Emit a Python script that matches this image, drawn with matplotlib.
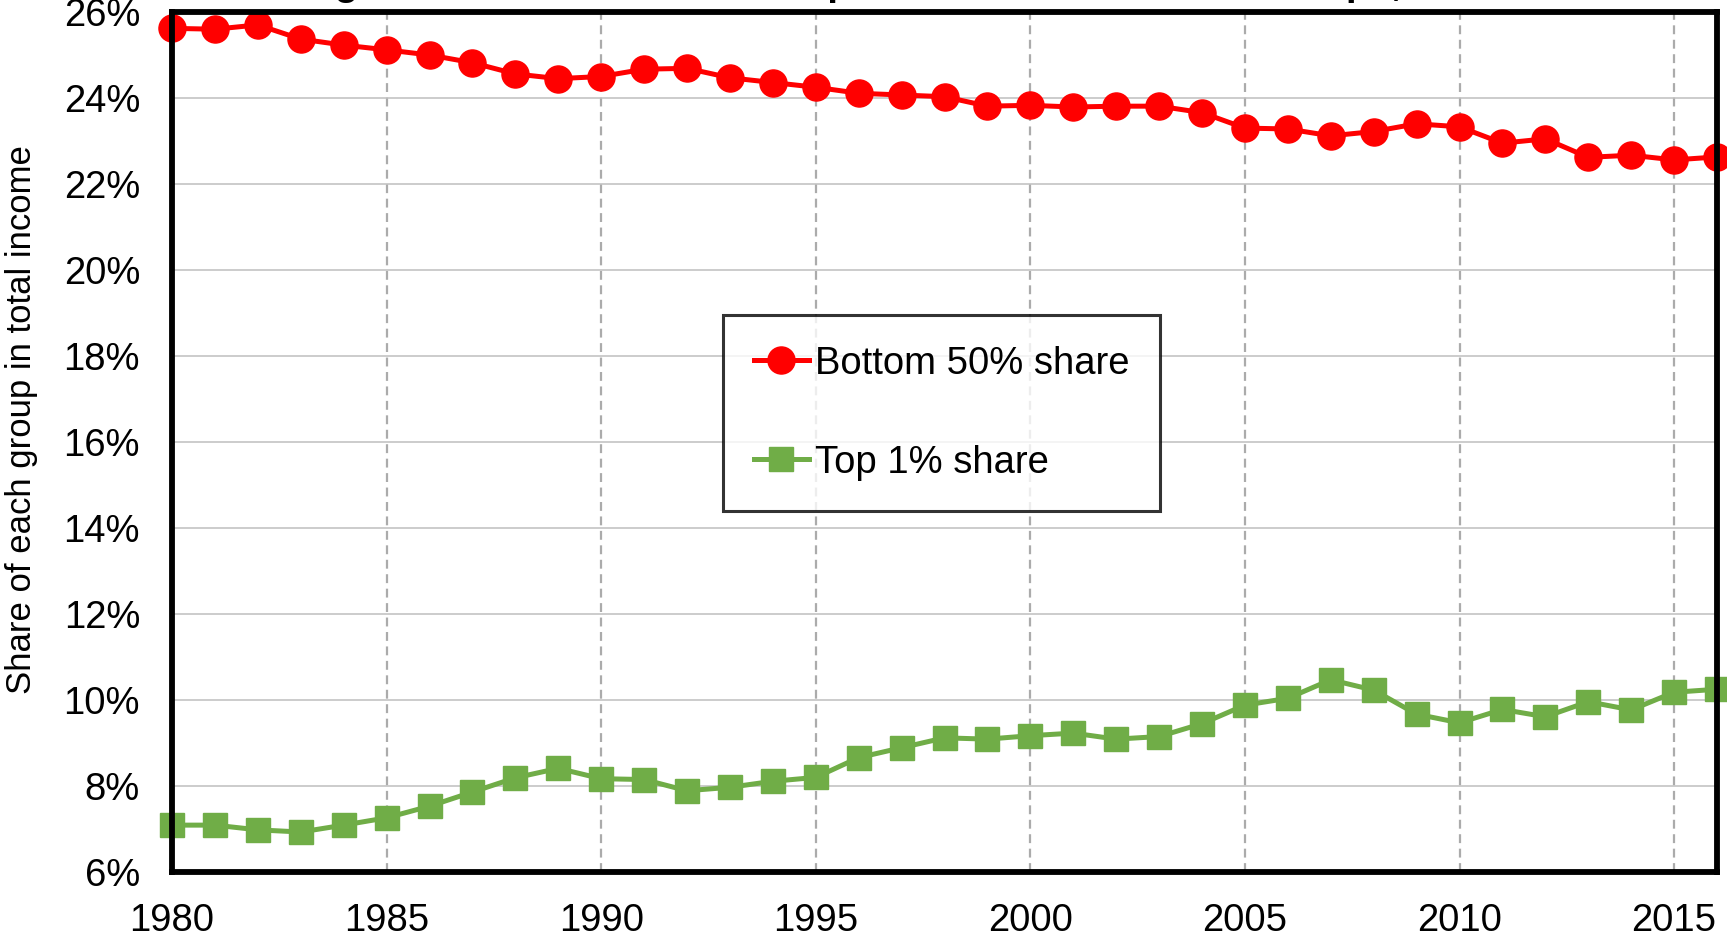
import matplotlib
matplotlib.use('Agg')
import matplotlib.pyplot as plt
from matplotlib.ticker import FuncFormatter, MultipleLocator

plt.rcParams['font.family'] = ['Liberation Sans', 'DejaVu Sans']

# values (% of total income)
years = list(range(1980, 2017))
bottom50 = [25.62, 25.60, 25.70, 25.37, 25.23, 25.12, 25.00, 24.82, 24.56, 24.45,
            24.50, 24.67, 24.69, 24.47, 24.36, 24.25, 24.11, 24.07, 24.03, 23.81,
            23.83, 23.79, 23.81, 23.81, 23.66, 23.30, 23.28, 23.12, 23.22, 23.40,
            23.33, 22.95, 23.05, 22.62, 22.67, 22.56, 22.63]
top1 = [7.09, 7.09, 6.98, 6.93, 7.09, 7.26, 7.53, 7.86, 8.19, 8.41,
        8.17, 8.15, 7.89, 7.97, 8.11, 8.20, 8.66, 8.89, 9.12, 9.09,
        9.17, 9.23, 9.09, 9.15, 9.45, 9.88, 10.04, 10.47, 10.23, 9.67,
        9.47, 9.78, 9.61, 9.96, 9.77, 10.18, 10.25]

series_labels = ['Bottom 50% share', 'Top 1% share']
title = 'Figure 1: Bottom 50% and top 1% income shares in Europe, 1980-2016'
ylabel = 'Share of each group in total income'

W, H = 1727, 942
fig = plt.figure(figsize=(W / 100, H / 100), dpi=100)
ax = fig.add_axes([172 / W, 1 - 872 / H, (1717 - 172) / W, (872 - 12) / H])

ax.plot(years, bottom50, color='#FF0000', lw=3.6, marker='o', markersize=19.5,
        label=series_labels[0], clip_on=False, zorder=4)
ax.plot(years, top1, color='#70AD47', lw=3.6, marker='s', markersize=17,
        label=series_labels[1], clip_on=False, zorder=4)

ax.set_xlim(1980, 2016)
ax.set_ylim(6, 26)
ax.xaxis.set_major_locator(MultipleLocator(5))
ax.yaxis.set_major_locator(MultipleLocator(2))
ax.yaxis.set_major_formatter(FuncFormatter(lambda v, p: f'{v:.0f}%'))

# horizontal solid grid, vertical dashed grid
ax.grid(axis='y', color='#BFBFBF', lw=1.1, zorder=0)
ax.grid(axis='x', color='#ABABAB', lw=1.6, ls=(0, (4, 2.5)), zorder=0)
ax.set_axisbelow(True)

for s in ax.spines.values():
    s.set_linewidth(4.2)
    s.set_color('black')
    s.set_zorder(5)

ax.tick_params(axis='both', length=0, labelsize=27.5)
ax.tick_params(axis='y', pad=23)
ax.tick_params(axis='x', pad=22)

fig.text(22 / W, 1 - 420 / H, ylabel, rotation=90, ha='center', va='center', fontsize=25)

# title sits above the canvas, only its descenders show
fig.text(300 / W, 1 + 5 / H, title, ha='left', va='baseline', fontsize=28, fontweight='bold')

leg = ax.legend(loc='upper left', bbox_to_anchor=(723 / W, 1 - 315 / H),
                bbox_transform=fig.transFigure, fontsize=27.5, frameon=True,
                fancybox=False, edgecolor='black', borderpad=0.8, handlelength=1.45,
                handletextpad=0.15, labelspacing=1.65, borderaxespad=0)
leg.get_frame().set_linewidth(2.2)

fig.savefig('out.png', dpi=100)
